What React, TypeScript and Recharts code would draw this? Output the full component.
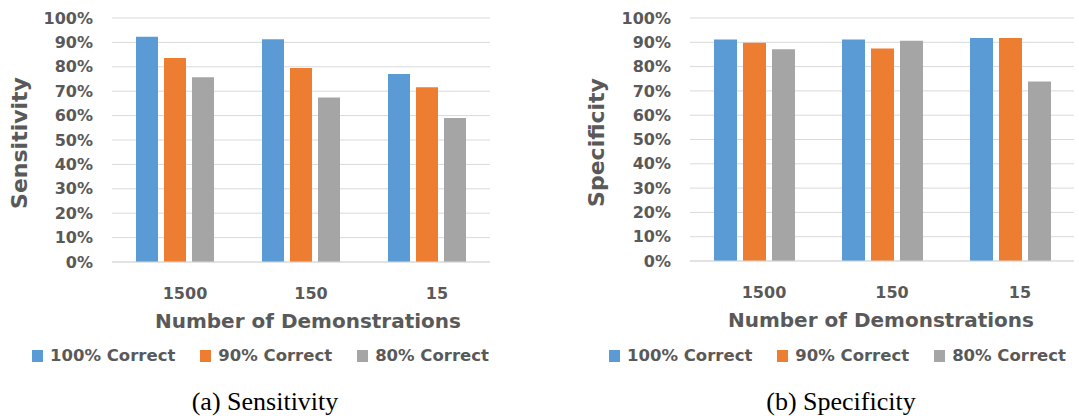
import React from "react";
import { BarChart, Bar, XAxis, YAxis, CartesianGrid, Legend, Label } from "recharts";

const categories = ["1500", "150", "15"];
const seriesNames = ["100% Correct", "90% Correct", "80% Correct"];
const seriesColors = ["#5b9bd5", "#ed7d31", "#a5a5a5"];

const sensitivity100 = [0.923, 0.913, 0.77];
const sensitivity90 = [0.836, 0.795, 0.716];
const sensitivity80 = [0.757, 0.674, 0.59];

const specificity100 = [0.912, 0.912, 0.918];
const specificity90 = [0.898, 0.875, 0.918];
const specificity80 = [0.871, 0.906, 0.739];

const yTicks = [0, 0.1, 0.2, 0.3, 0.4, 0.5, 0.6, 0.7, 0.8, 0.9, 1];

const FONT = "'DejaVu Sans', sans-serif";
const TEXT = "#595959";

const buildRows = (a: number[], b: number[], c: number[]) =>
  categories.map((name, i) => ({ name, s0: a[i], s1: b[i], s2: c[i] }));

const sensitivityData = buildRows(sensitivity100, sensitivity90, sensitivity80);
const specificityData = buildRows(specificity100, specificity90, specificity80);

const LegendRow = () => (
  <div style={{ display: "flex", alignItems: "center", fontFamily: FONT, fontWeight: 700, fontSize: 16.5, color: TEXT, whiteSpace: "nowrap" }}>
    {seriesNames.map((n, i) => (
      <div key={n} style={{ display: "flex", alignItems: "center", marginRight: 25 }}>
        <span style={{ width: 11, height: 12, background: seriesColors[i], display: "inline-block", marginRight: 7 }} />
        <span>{n}</span>
      </div>
    ))}
  </div>
);

interface PanelProps {
  data: { name: string; s0: number; s1: number; s2: number }[];
  yLabel: string;
  width: number;
  axisWidth: number;
  marginRight: number;
  marginBottom: number;
  yLabelOffset: number;
  xLabelDx: number;
  legendLeft: number;
}

const Panel = ({ data, yLabel, width, axisWidth, marginRight, marginBottom, yLabelOffset, xLabelDx, legendLeft }: PanelProps) => (
  <BarChart
    width={width}
    height={372}
    data={data}
    margin={{ top: 18, right: marginRight, left: 0, bottom: marginBottom }}
    barCategoryGap={24}
    barGap={6}
  >
    <CartesianGrid vertical={false} stroke="#d9d9d9" strokeWidth={1} />
    <XAxis
      dataKey="name"
      height={70}
      axisLine={{ stroke: "#d9d9d9" }}
      tickLine={false}
      tickMargin={20}
      dx={10}
      tick={{ fill: TEXT, fontSize: 16, fontWeight: 700, fontFamily: FONT }}
    >
      <Label
        value="Number of Demonstrations"
        position="insideBottom"
        offset={4}
        dx={xLabelDx}
        fill={TEXT}
        style={{ fontSize: 20, fontWeight: 700, fontFamily: FONT }}
      />
    </XAxis>
    <YAxis
      width={axisWidth}
      domain={[0, 1]}
      ticks={yTicks}
      axisLine={false}
      tickLine={false}
      tickMargin={13}
      tickFormatter={(v: number) => `${Math.round(v * 100)}%`}
      tick={{ fill: TEXT, fontSize: 16, fontWeight: 700, fontFamily: FONT }}
    >
      <Label
        value={yLabel}
        angle={-90}
        position="insideLeft"
        offset={yLabelOffset}
        dy={3}
        fill={TEXT}
        style={{ fontSize: 22, fontWeight: 700, fontFamily: FONT, textAnchor: "middle" }}
      />
    </YAxis>
    <Legend
      verticalAlign="middle"
      layout="horizontal"
      content={() => <LegendRow />}
      wrapperStyle={{ left: legendLeft, top: 346, width: "auto" }}
    />
    <Bar dataKey="s0" name={seriesNames[0]} fill={seriesColors[0]} isAnimationActive={false} />
    <Bar dataKey="s1" name={seriesNames[1]} fill={seriesColors[1]} isAnimationActive={false} />
    <Bar dataKey="s2" name={seriesNames[2]} fill={seriesColors[2]} isAnimationActive={false} />
  </BarChart>
);

const captionStyle: React.CSSProperties = {
  position: "absolute",
  top: 387,
  width: 300,
  textAlign: "center",
  fontFamily: "'Liberation Serif', 'Times New Roman', serif",
  fontSize: 26,
  lineHeight: "30px",
  color: "#000",
  whiteSpace: "nowrap",
};

export default function App() {
  return (
    <div style={{ position: "relative", width: 1079, height: 416, background: "#fff", overflow: "hidden" }}>
      <style>{"body{margin:0}"}</style>
      <div style={{ position: "absolute", left: 0, top: 0 }}>
        <Panel
          data={sensitivityData}
          yLabel="Sensitivity"
          width={520}
          axisWidth={112}
          marginRight={30}
          marginBottom={40}
          yLabelOffset={19}
          xLabelDx={7}
          legendLeft={32}
        />
      </div>
      <div style={{ position: "absolute", left: 540, top: 0 }}>
        <Panel
          data={specificityData}
          yLabel="Specificity"
          width={539}
          axisWidth={150}
          marginRight={5}
          marginBottom={41}
          yLabelOffset={56}
          xLabelDx={-1}
          legendLeft={69}
        />
      </div>
      <div style={{ ...captionStyle, left: 115 }}>(a) Sensitivity</div>
      <div style={{ ...captionStyle, left: 691 }}>(b) Specificity</div>
    </div>
  );
}
